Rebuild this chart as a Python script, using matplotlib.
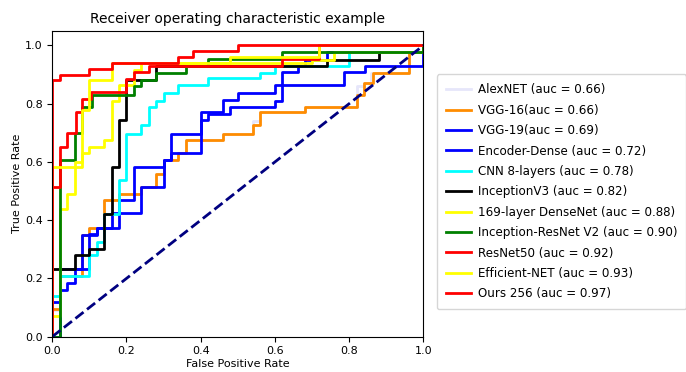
import matplotlib
matplotlib.use("Agg")
import matplotlib.pyplot as plt

title = "Receiver operating characteristic example"
x_label = "False Positive Rate"
y_label = "True Positive Rate"

labels = [
    "AlexNET (auc = 0.66)",
    "VGG-16(auc = 0.66)",
    "VGG-19(auc = 0.69)",
    "Encoder-Dense (auc = 0.72)",
    "CNN 8-layers (auc = 0.78)",
    "InceptionV3 (auc = 0.82)",
    "169-layer DenseNet (auc = 0.88)",
    "Inception-ResNet V2 (auc = 0.90)",
    "ResNet50 (auc = 0.92)",
    "Efficient-NET (auc = 0.93)",
    "Ours 256 (auc = 0.97)",
]
colors = ["lavender", "darkorange", "blue", "blue", "cyan", "black",
          "yellow", "green", "red", "yellow", "red"]

alex_fpr = [0, 0, 0.02, 0.02, 0.08, 0.08, 0.10, 0.10, 0.14, 0.14, 0.18, 0.18, 0.24, 0.24, 0.28, 0.28,
            0.30, 0.30, 0.34, 0.34, 0.36, 0.36, 0.46, 0.46, 0.54, 0.54, 0.56, 0.56, 0.68, 0.68,
            0.82, 0.82, 0.84, 0.84, 0.86, 0.86, 0.96, 0.96, 1.0, 1.0]
alex_tpr = [0, 0.09, 0.09, 0.21, 0.21, 0.35, 0.35, 0.374, 0.374, 0.469, 0.469, 0.49, 0.49, 0.514, 0.514, 0.56,
            0.56, 0.606, 0.606, 0.629, 0.629, 0.674, 0.674, 0.697, 0.697, 0.74, 0.74, 0.77, 0.77, 0.79,
            0.79, 0.86, 0.86, 0.87, 0.87, 0.906, 0.906, 0.977, 0.977, 1.0]

vgg16_fpr = [0, 0, 0.02, 0.02, 0.08, 0.08, 0.10, 0.10, 0.14, 0.14, 0.18, 0.18, 0.24, 0.24, 0.28, 0.28,
             0.30, 0.30, 0.34, 0.34, 0.36, 0.36, 0.46, 0.46, 0.54, 0.54, 0.56, 0.56, 0.68, 0.68,
             0.82, 0.82, 0.84, 0.84, 0.864, 0.864, 0.96, 0.96, 1.0, 1.0]
vgg16_tpr = [0, 0.095, 0.095, 0.21, 0.21, 0.35, 0.35, 0.374, 0.374, 0.469, 0.469, 0.49, 0.49, 0.514, 0.514, 0.56,
             0.56, 0.606, 0.606, 0.629, 0.629, 0.674, 0.674, 0.697, 0.697, 0.726, 0.726, 0.77, 0.77, 0.79,
             0.79, 0.83, 0.83, 0.87, 0.87, 0.906, 0.906, 0.977, 0.977, 1.0]

vgg19_fpr = [0, 0.02, 0.02, 0.04, 0.04, 0.06, 0.06, 0.08, 0.08, 0.12, 0.12, 0.18, 0.18, 0.22, 0.22, 0.30, 0.30,
             0.32, 0.32, 0.40, 0.40, 0.42, 0.42, 0.48, 0.48, 0.60, 0.60, 0.62, 0.62, 0.785, 0.785, 0.843, 0.843, 1.0, 1.0]
vgg19_tpr = [0, 0, 0.16, 0.16, 0.185, 0.185, 0.234, 0.234, 0.35, 0.35, 0.374, 0.374, 0.469, 0.469, 0.583, 0.583, 0.606,
             0.606, 0.629, 0.629, 0.745, 0.745, 0.766, 0.766, 0.79, 0.79, 0.81, 0.81, 0.863, 0.863, 0.908, 0.908, 0.93, 0.93, 1.0]

enc_fpr = [0, 0, 0.02, 0.02, 0.10, 0.10, 0.12, 0.12, 0.16, 0.16, 0.24, 0.24, 0.30, 0.30, 0.32, 0.32, 0.40, 0.40,
           0.46, 0.46, 0.50, 0.50, 0.60, 0.60, 0.62, 0.62, 0.663, 0.663, 0.68, 0.68, 0.74, 0.74, 1.0, 1.0]
enc_tpr = [0, 0.12, 0.12, 0.234, 0.234, 0.352, 0.352, 0.374, 0.374, 0.423, 0.423, 0.514, 0.514, 0.606, 0.606, 0.697, 0.697, 0.77,
           0.77, 0.814, 0.814, 0.838, 0.838, 0.863, 0.863, 0.908, 0.908, 0.93, 0.93, 0.95, 0.95, 0.977, 0.977, 1.0]

cnn_fpr = [0, 0, 0.02, 0.02, 0.10, 0.10, 0.12, 0.12, 0.14, 0.14, 0.18, 0.18, 0.20, 0.20, 0.24, 0.24, 0.26, 0.26,
           0.28, 0.28, 0.30, 0.30, 0.34, 0.34, 0.42, 0.42, 0.56, 0.56, 0.60, 0.60, 0.80, 0.80, 1.0, 1.0]
cnn_tpr = [0, 0.14, 0.14, 0.21, 0.21, 0.28, 0.28, 0.326, 0.326, 0.42, 0.42, 0.537, 0.537, 0.697, 0.697, 0.726, 0.726, 0.79,
           0.79, 0.81, 0.81, 0.835, 0.835, 0.864, 0.864, 0.887, 0.887, 0.905, 0.905, 0.93, 0.93, 0.977, 0.977, 1.0]

incv3_fpr = [0, 0, 0.06, 0.06, 0.10, 0.10, 0.14, 0.14, 0.16, 0.16, 0.18, 0.18, 0.20, 0.20, 0.28, 0.28,
             0.74, 0.74, 0.88, 0.88, 1.0, 1.0]
incv3_tpr = [0, 0.234, 0.234, 0.28, 0.28, 0.30, 0.30, 0.42, 0.42, 0.583, 0.583, 0.745, 0.745, 0.88, 0.88, 0.93,
             0.93, 0.95, 0.95, 0.977, 0.977, 1.0]

dense_fpr = [0, 0, 0.02, 0.02, 0.04, 0.04, 0.06, 0.06, 0.08, 0.08, 0.10, 0.10, 0.14, 0.14, 0.16, 0.16, 0.18, 0.18,
             0.22, 0.22, 0.24, 0.24, 0.70, 0.70, 0.76, 0.76, 1.0, 1.0]
dense_tpr = [0, 0.07, 0.07, 0.44, 0.44, 0.49, 0.49, 0.583, 0.583, 0.63, 0.63, 0.65, 0.65, 0.674, 0.674, 0.81, 0.81, 0.864,
             0.864, 0.915, 0.915, 0.94, 0.94, 0.95, 0.95, 0.977, 0.977, 1.0]

incres_fpr = [0, 0.02, 0.02, 0.06, 0.06, 0.08, 0.08, 0.106, 0.106, 0.22, 0.22, 0.24, 0.24, 0.28, 0.28, 0.36, 0.36,
              0.42, 0.42, 0.62, 0.62, 1.0, 1.0]
incres_tpr = [0, 0, 0.605, 0.605, 0.70, 0.70, 0.79, 0.79, 0.83, 0.83, 0.86, 0.86, 0.88, 0.88, 0.905, 0.905, 0.93,
              0.93, 0.955, 0.955, 0.977, 0.977, 1.0]

res50_fpr = [0, 0, 0.02, 0.02, 0.04, 0.04, 0.063, 0.063, 0.08, 0.08, 0.104, 0.104, 0.20, 0.20, 0.22, 0.22, 0.26, 0.26,
             0.62, 0.62, 0.72, 0.72, 1.0]
res50_tpr = [0, 0.514, 0.514, 0.65, 0.65, 0.70, 0.70, 0.77, 0.77, 0.815, 0.815, 0.84, 0.84, 0.885, 0.885, 0.91, 0.91, 0.93,
             0.93, 0.955, 0.955, 1.0, 1.0]

eff_fpr = [0, 0, 0.06, 0.06, 0.08, 0.08, 0.10, 0.10, 0.16, 0.16, 0.48, 0.48, 0.72, 0.72, 1.0]
eff_tpr = [0, 0.583, 0.583, 0.60, 0.60, 0.777, 0.777, 0.88, 0.88, 0.94, 0.94, 0.962, 0.962, 1.0, 1.0]

ours_fpr = [0, 0, 0.02, 0.02, 0.10, 0.10, 0.16, 0.16, 0.34, 0.34, 0.38, 0.38, 0.50, 0.50, 1.0]
ours_tpr = [0, 0.88, 0.88, 0.90, 0.90, 0.92, 0.92, 0.94, 0.94, 0.96, 0.96, 0.98, 0.98, 1.0, 1.0]

chance = [0, 1]

curves = [(alex_fpr, alex_tpr), (vgg16_fpr, vgg16_tpr), (vgg19_fpr, vgg19_tpr), (enc_fpr, enc_tpr),
          (cnn_fpr, cnn_tpr), (incv3_fpr, incv3_tpr), (dense_fpr, dense_tpr), (incres_fpr, incres_tpr),
          (res50_fpr, res50_tpr), (eff_fpr, eff_tpr), (ours_fpr, ours_tpr)]

fig = plt.figure(figsize=(6.86, 3.72), dpi=100)
ax = fig.add_axes([0.0762, 0.095, 0.541, 0.822])

for (fx, ty), lab, col in zip(curves, labels, colors):
    ax.plot(fx, ty, color=col, lw=2, label=lab)
ax.plot(chance, chance, color="navy", lw=2, linestyle="--")

ax.set_xlim(0.0, 1.0)
ax.set_ylim(0.0, 1.05)
ax.set_xticks([0.0, 0.2, 0.4, 0.6, 0.8, 1.0])
ax.set_yticks([0.0, 0.2, 0.4, 0.6, 0.8, 1.0])
ax.tick_params(labelsize=8)
ax.set_xlabel(x_label, fontsize=8, labelpad=2)
ax.set_ylabel(y_label, fontsize=8, labelpad=2)
ax.set_title(title, fontsize=10)

ax.legend(loc="center left", bbox_to_anchor=(0.628, 0.484), bbox_transform=fig.transFigure,
          fontsize=8.6, handlelength=2.1, handletextpad=0.6, labelspacing=0.62, borderpad=0.75)

fig.savefig("out.png", dpi=100)
